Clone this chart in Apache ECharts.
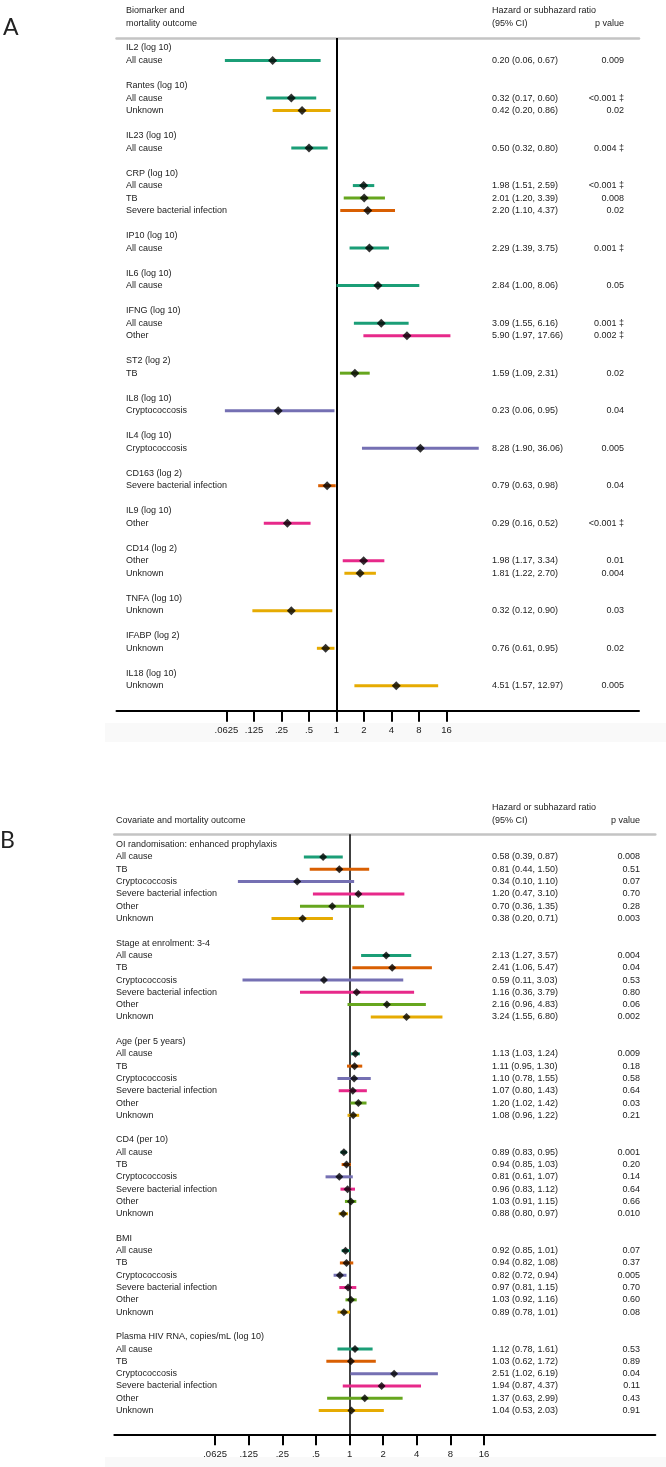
<!DOCTYPE html>
<html><head><meta charset="utf-8">
<script src="https://cdn.jsdelivr.net/npm/echarts@6/dist/echarts.min.js"></script>
<style>html,body{margin:0;padding:0;background:#fff}#c{width:666px;height:1467px}</style>
</head><body><div id="c"></div>
<script>
// ---- axis ticks ----
const tickValues = [0.0625, 0.125, 0.25, 0.5, 1, 2, 4, 8, 16];
const tickLabels = ['.0625', '.125', '.25', '.5', '1', '2', '4', '8', '16'];

// ---- Panel A: biomarkers ----
const A_groups = ['IL2 (log 10)', 'Rantes (log 10)', 'IL23 (log 10)', 'CRP (log 10)', 'IP10 (log 10)', 'IL6 (log 10)', 'IFNG (log 10)', 'ST2 (log 2)', 'IL8 (log 10)', 'IL4 (log 10)', 'CD163 (log 2)', 'IL9 (log 10)', 'CD14 (log 2)', 'TNFA (log 10)', 'IFABP (log 2)', 'IL18 (log 10)'];
const A_group = [0, 1, 1, 2, 3, 3, 3, 4, 5, 6, 6, 7, 8, 9, 10, 11, 12, 12, 13, 14, 15];
const A_outcome = ['All cause', 'All cause', 'Unknown', 'All cause', 'All cause', 'TB', 'Severe bacterial infection', 'All cause', 'All cause', 'All cause', 'Other', 'TB', 'Cryptococcosis', 'Cryptococcosis', 'Severe bacterial infection', 'Other', 'Other', 'Unknown', 'Unknown', 'Unknown', 'Unknown'];
const A_hr = [0.20, 0.32, 0.42, 0.50, 1.98, 2.01, 2.20, 2.29, 2.84, 3.09, 5.90, 1.59, 0.23, 8.28, 0.79, 0.29, 1.98, 1.81, 0.32, 0.76, 4.51];
const A_lo = [0.06, 0.17, 0.20, 0.32, 1.51, 1.20, 1.10, 1.39, 1.00, 1.55, 1.97, 1.09, 0.06, 1.90, 0.63, 0.16, 1.17, 1.22, 0.12, 0.61, 1.57];
const A_hi = [0.67, 0.60, 0.86, 0.80, 2.59, 3.39, 4.37, 3.75, 8.06, 6.16, 17.66, 2.31, 0.95, 36.06, 0.98, 0.52, 3.34, 2.70, 0.90, 0.95, 12.97];
const A_p = ['0.009', '<0.001 \u2021', '0.02', '0.004 \u2021', '<0.001 \u2021', '0.008', '0.02', '0.001 \u2021', '0.05', '0.001 \u2021', '0.002 \u2021', '0.02', '0.04', '0.005', '0.04', '<0.001 \u2021', '0.01', '0.004', '0.03', '0.02', '0.005'];

// ---- Panel B: covariates ----
const B_groups = ['OI randomisation: enhanced prophylaxis', 'Stage at enrolment: 3-4', 'Age (per 5 years)', 'CD4 (per 10)', 'BMI', 'Plasma HIV RNA, copies/mL (log 10)'];
const B_group = [0,0,0,0,0,0, 1,1,1,1,1,1, 2,2,2,2,2,2, 3,3,3,3,3,3, 4,4,4,4,4,4, 5,5,5,5,5,5];
const B_outcome = [
  'All cause','TB','Cryptococcosis','Severe bacterial infection','Other','Unknown',
  'All cause','TB','Cryptococcosis','Severe bacterial infection','Other','Unknown',
  'All cause','TB','Cryptococcosis','Severe bacterial infection','Other','Unknown',
  'All cause','TB','Cryptococcosis','Severe bacterial infection','Other','Unknown',
  'All cause','TB','Cryptococcosis','Severe bacterial infection','Other','Unknown',
  'All cause','TB','Cryptococcosis','Severe bacterial infection','Other','Unknown'];
const B_hr = [0.58, 0.81, 0.34, 1.20, 0.70, 0.38,  2.13, 2.41, 0.59, 1.16, 2.16, 3.24,  1.13, 1.11, 1.10, 1.07, 1.20, 1.08,  0.89, 0.94, 0.81, 0.96, 1.03, 0.88,  0.92, 0.94, 0.82, 0.97, 1.03, 0.89,  1.12, 1.03, 2.51, 1.94, 1.37, 1.04];
const B_lo = [0.39, 0.44, 0.10, 0.47, 0.36, 0.20,  1.27, 1.06, 0.11, 0.36, 0.96, 1.55,  1.03, 0.95, 0.78, 0.80, 1.02, 0.96,  0.83, 0.85, 0.61, 0.83, 0.91, 0.80,  0.85, 0.82, 0.72, 0.81, 0.92, 0.78,  0.78, 0.62, 1.02, 0.87, 0.63, 0.53];
const B_hi = [0.87, 1.50, 1.10, 3.10, 1.35, 0.71,  3.57, 5.47, 3.03, 3.79, 4.83, 6.80,  1.24, 1.30, 1.55, 1.43, 1.42, 1.22,  0.95, 1.03, 1.07, 1.12, 1.15, 0.97,  1.01, 1.08, 0.94, 1.15, 1.16, 1.01,  1.61, 1.72, 6.19, 4.37, 2.99, 2.03];
const B_p = ['0.008', '0.51', '0.07', '0.70', '0.28', '0.003',  '0.004', '0.04', '0.53', '0.80', '0.06', '0.002',  '0.009', '0.18', '0.58', '0.64', '0.03', '0.21',  '0.001', '0.20', '0.14', '0.64', '0.66', '0.010',  '0.07', '0.37', '0.005', '0.70', '0.60', '0.08',  '0.53', '0.89', '0.04', '0.11', '0.43', '0.91'];

// ---- colours by outcome ----
const A_colors = {'All cause':'#1b9e77','TB':'#66a61e','Severe bacterial infection':'#d95f02','Other':'#e7298a','Cryptococcosis':'#7570b3','Unknown':'#e6ab02'};
const B_colors = {'All cause':'#1b9e77','TB':'#d95f02','Cryptococcosis':'#7570b3','Severe bacterial infection':'#e7298a','Other':'#66a61e','Unknown':'#e6ab02'};

const FONT = "'Liberation Sans', Arial, sans-serif";
const TXT = '#222';

function layout(groups, groupOf) {
  const headers = [], items = [];
  let row = 0;
  groups.forEach((g, gi) => {
    headers.push({text: g, row: row}); row++;
    groupOf.forEach((gg, i) => { if (gg === gi) { items[i] = row; row++; } });
    row++;
  });
  return {headers, items};
}
const LA = layout(A_groups, A_group);
const LB = layout(B_groups, B_group);

function ciSeries(name, xi, yi, lo, hi, rows, outcome, colors) {
  return {
    type: 'custom', name: name, xAxisIndex: xi, yAxisIndex: yi, silent: true, z: 2,
    encode: {x: [0, 1], y: 2},
    data: lo.map((v, i) => [v, hi[i], rows[i], i]),
    renderItem: function (params, api) {
      const i = api.value(3);
      const p1 = api.coord([api.value(0), api.value(2)]);
      const p2 = api.coord([api.value(1), api.value(2)]);
      return {type: 'line', shape: {x1: p1[0], y1: p1[1], x2: p2[0], y2: p2[1]},
        style: {stroke: colors[outcome[i]], lineWidth: 3, lineCap: 'butt'}};
    }
  };
}
function pointSeries(xi, yi, hr, rows, size, refWidth) {
  return {
    type: 'scatter', xAxisIndex: xi, yAxisIndex: yi, silent: true, z: 3,
    symbol: 'diamond', symbolSize: size, itemStyle: {color: '#000'},
    data: hr.map((v, i) => [v, rows[i]]),
    markLine: {silent: true, symbol: 'none', label: {show: false}, z: 1,
      lineStyle: {color: '#000', width: refWidth, type: 'solid'}, data: [{xAxis: 1}]}
  };
}
function bottomAxis(grid, min, max) {
  return {
    type: 'log', logBase: 2, gridIndex: grid, min: min, max: max, position: 'bottom',
    axisLine: {show: true, onZero: false, lineStyle: {color: '#000', width: 2}},
    axisTick: {show: true, customValues: tickValues, length: 11, lineStyle: {color: '#000', width: 2}},
    axisLabel: {show: true, customValues: tickValues, margin: 15, color: TXT, fontSize: 9.5, fontFamily: FONT,
      formatter: v => { const k = tickValues.findIndex(t => Math.abs(t - v) < 1e-9); return k >= 0 ? tickLabels[k] : ''; }},
    splitLine: {show: false}
  };
}
function topAxis(grid, min, max) {
  return {
    type: 'log', logBase: 2, gridIndex: grid, min: min, max: max, position: 'top',
    axisLine: {show: true, onZero: false, lineStyle: {color: '#c4c4c4', width: 2.5}},
    axisTick: {show: false}, axisLabel: {show: false}, splitLine: {show: false}
  };
}

const chart = echarts.init(document.getElementById('c'), null, {renderer: 'canvas'});
chart.setOption({
  animation: false,
  backgroundColor: '#fff',
  grid: [
    {left: 116.5, top: 38, width: 522.5, height: 672.7},
    {left: 114.3, top: 834.3, width: 541, height: 600}
  ],
  xAxis: [
    bottomAxis(0, Math.pow(2, -8), Math.pow(2, 11)),
    topAxis(0, Math.pow(2, -8), Math.pow(2, 11)),
    bottomAxis(1, Math.pow(2, -7), Math.pow(2, 9.1)),
    topAxis(1, Math.pow(2, -7), Math.pow(2, 9.1))
  ],
  yAxis: [
    {type: 'value', gridIndex: 0, inverse: true, min: -0.8, max: 52.99, show: false},
    {type: 'value', gridIndex: 1, inverse: true, min: -0.846, max: 47.93, show: false}
  ],
  series: [
    ciSeries('A', 0, 0, A_lo, A_hi, LA.items, A_outcome, A_colors),
    pointSeries(0, 0, A_hr, LA.items, 9, 2),
    ciSeries('B', 2, 1, B_lo, B_hi, LB.items, B_outcome, B_colors),
    pointSeries(2, 1, B_hr, LB.items, 8, 1.5)
  ]
});

// ---- text columns ----
function t(x, y, text, align, size, family, extra) {
  return Object.assign({type: 'text', x: x, y: y, silent: true, z: 10,
    style: {text: text, fill: TXT, font: size + 'px ' + (family || FONT),
      textAlign: align, align: align, textVerticalAlign: 'middle', verticalAlign: 'middle'}}, extra || {});
}
function rowY(yi, row) { return chart.convertToPixel({xAxisIndex: yi === 0 ? 0 : 2, yAxisIndex: yi}, [1, row])[1]; }
const fmt = v => v.toFixed(2);
const els = [];
// light bands below axes
els.push({type: 'rect', z: -5, silent: true, shape: {x: 105, y: 723, width: 561, height: 19}, style: {fill: '#f9f9f9'}});
els.push({type: 'rect', z: -5, silent: true, shape: {x: 105, y: 1457, width: 561, height: 10}, style: {fill: '#f9f9f9'}});
// panel letters
els.push(t(3, 28, 'A', 'left', 23, "Lato, 'Open Sans', sans-serif"));
els.push(t(0, 841, 'B', 'left', 23, "Lato, 'Open Sans', sans-serif"));
// headers A
els.push(t(126, 11, 'Biomarker and', 'left', 9));
els.push(t(126, 24, 'mortality outcome', 'left', 9));
els.push(t(492, 11, 'Hazard or subhazard ratio', 'left', 9));
els.push(t(492, 24, '(95% CI)', 'left', 9));
els.push(t(624, 24, 'p value', 'right', 9));
// headers B
els.push(t(116, 821, 'Covariate and mortality outcome', 'left', 9));
els.push(t(492, 808, 'Hazard or subhazard ratio', 'left', 9));
els.push(t(492, 821, '(95% CI)', 'left', 9));
els.push(t(640, 821, 'p value', 'right', 9));
// rows A
LA.headers.forEach(h => els.push(t(126, rowY(0, h.row), h.text, 'left', 9)));
LA.items.forEach((r, i) => {
  const y = rowY(0, r);
  els.push(t(126, y, A_outcome[i], 'left', 9));
  els.push(t(492, y, fmt(A_hr[i]) + ' (' + fmt(A_lo[i]) + ', ' + fmt(A_hi[i]) + ')', 'left', 9));
  els.push(t(624, y, A_p[i], 'right', 9));
});
// rows B
LB.headers.forEach(h => els.push(t(116, rowY(1, h.row), h.text, 'left', 9)));
LB.items.forEach((r, i) => {
  const y = rowY(1, r);
  els.push(t(116, y, B_outcome[i], 'left', 9));
  els.push(t(492, y, fmt(B_hr[i]) + ' (' + fmt(B_lo[i]) + ', ' + fmt(B_hi[i]) + ')', 'left', 9));
  els.push(t(640, y, B_p[i], 'right', 9));
});
chart.setOption({graphic: {elements: els}});
</script>
</body></html>
